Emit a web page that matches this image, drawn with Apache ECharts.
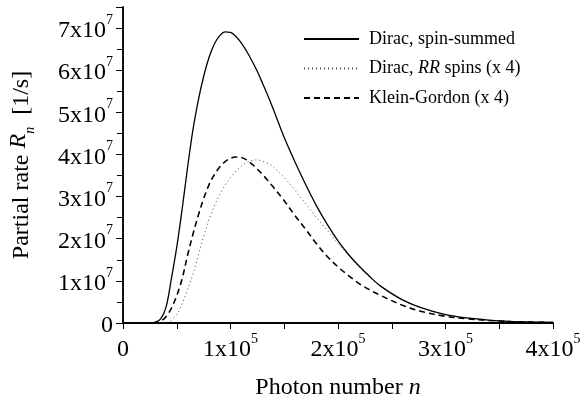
<!DOCTYPE html>
<html>
<head>
<meta charset="utf-8">
<script src="https://cdn.jsdelivr.net/npm/echarts@6/dist/echarts.min.js"></script>
<style>
html,body{margin:0;padding:0;background:#fff;}
#c{width:587px;height:401px;}
</style>
</head>
<body>
<div id="c"></div>
<script>
// photon number n (in thousands)
var nK = [0,10,20,25,30,35,40,45,50,55,60,65,70,75,80,85,90,95,100,105,110,115,120,125,130,135,140,150,160,170,180,190,200,210,220,230,240,260,280,300,320,340,360,380,400];
// partial rates in units of 1e7 [1/s]
var diracSum = [0,0,0,0.003,0.02,0.1,0.37,1.05,1.8,2.7,3.68,4.58,5.28,5.85,6.3,6.62,6.82,6.91,6.9,6.8,6.65,6.45,6.22,5.97,5.68,5.38,5.06,4.4,3.82,3.28,2.78,2.34,1.95,1.62,1.34,1.09,0.87,0.55,0.34,0.2,0.12,0.07,0.04,0.025,0.015];
var diracRR = [0,0,0,0,0,0,0.01,0.06,0.2,0.45,0.8,1.15,1.6,2.05,2.45,2.78,3.05,3.27,3.45,3.6,3.72,3.81,3.86,3.87,3.84,3.79,3.7,3.45,3.15,2.83,2.5,2.2,1.88,1.6,1.33,1.08,0.86,0.55,0.34,0.2,0.12,0.07,0.04,0.025,0.015];
var kleinGordon = [0,0,0,0,0,0.04,0.15,0.35,0.65,1.05,1.6,2.1,2.55,2.95,3.28,3.52,3.7,3.83,3.91,3.94,3.93,3.87,3.77,3.65,3.52,3.37,3.22,2.9,2.55,2.22,1.88,1.58,1.33,1.12,0.93,0.78,0.65,0.42,0.26,0.16,0.1,0.06,0.035,0.02,0.012];
var seriesNames = ['Dirac, spin-summed', 'Dirac, RR spins (x 4)', 'Klein-Gordon (x 4)'];
// tick labels: mantissa and exponent
var xTickMant = {0:'0',100:'1x10',200:'2x10',300:'3x10',400:'4x10'};
var xTickExp = '5';
var yTickExp = '7';

function pairs(ys){ return nK.map(function(x,i){ return [x, ys[i]]; }); }

var serif = 'Liberation Serif';
var chart = echarts.init(document.getElementById('c'));
var frameLine = {show:true, lineStyle:{color:'#000', width:1.5}};
var tickRich = {
  b:{fontFamily:serif, fontSize:24, color:'#000', lineHeight:30, verticalAlign:'bottom'},
  s:{fontFamily:serif, fontSize:14, color:'#000', lineHeight:10, verticalAlign:'top'}
};
chart.setOption({
  animation:false,
  backgroundColor:'#fff',
  textStyle:{fontFamily:serif},
  grid:{left:123, right:34, top:7, bottom:78, containLabel:false, outerBoundsMode:'none'},
  legend:{
    orient:'vertical', left:303, top:30, itemWidth:55, itemHeight:18, itemGap:11.5,
    padding:0,
    data:seriesNames,
    itemStyle:{opacity:0},
    lineStyle:{opacity:1},
    textStyle:{fontFamily:serif, fontSize:18, color:'#000', padding:[0,0,0,5],
      rich:{i:{fontFamily:serif, fontSize:18, fontStyle:'italic', color:'#000'}}},
    formatter:function(name){
      if(name==='Dirac, RR spins (x 4)') return 'Dirac, {i|RR} spins (x 4)';
      return name;
    }
  },
  xAxis:[{
    type:'value', min:0, max:400, interval:100, position:'bottom',
    axisLine:{show:true, onZero:false, lineStyle:{color:'#000', width:2}},
    axisTick:{show:true, inside:false, length:6, lineStyle:{color:'#000', width:1}},
    minorTick:{show:true, splitNumber:2, length:4, lineStyle:{color:'#000', width:1}},
    splitLine:{show:false},
    axisLabel:{margin:9, color:'#000',
      formatter:function(v){ if(v===0) return '{b|0}'; return '{b|'+xTickMant[v]+'}{s|'+xTickExp+'}'; },
      rich:tickRich},
    name:'Photon number {i|n}', nameLocation:'middle', nameGap:53, 
    nameTextStyle:{fontFamily:serif, fontSize:24, color:'#000', verticalAlign:'top', lineHeight:24,
      rich:{i:{fontFamily:serif, fontSize:24, fontStyle:'italic', color:'#000', lineHeight:24}}}
  },{
    type:'value', min:0, max:400, interval:100, position:'top',
    axisLine:frameLine,
    axisTick:{show:true, inside:true, length:6, lineStyle:{color:'#000'}},
    minorTick:{show:true, splitNumber:2, length:6, lineStyle:{color:'#000'}},
    axisLabel:{show:false}, splitLine:{show:false}
  }],
  yAxis:[{
    type:'value', min:0, max:7.5, interval:1, position:'left',
    axisLine:frameLine,
    axisTick:{show:true, inside:false, length:7, lineStyle:{color:'#000'}},
    minorTick:{show:true, splitNumber:2, length:5, lineStyle:{color:'#000'}},
    splitLine:{show:false},
    axisLabel:{margin:10, color:'#000', showMaxLabel:false,
      formatter:function(v){ if(v===0) return '{b|0}'; if(v>7) return ''; return '{b|'+v+'x10}{s|'+yTickExp+'}'; },
      rich:tickRich},
    name:'Partial rate {i|R}{sub|n}  [1/s]', nameLocation:'middle', nameGap:86, nameRotate:90,
    nameTextStyle:{fontFamily:serif, fontSize:24, color:'#000',
      rich:{i:{fontFamily:serif, fontSize:24, fontStyle:'italic', color:'#000', lineHeight:30, verticalAlign:'top'},
            sub:{fontFamily:serif, fontSize:14, fontStyle:'italic', color:'#000', lineHeight:30, verticalAlign:'bottom'}}}
  },{
    type:'value', min:0, max:7.5, interval:1, position:'right',
    axisLine:frameLine,
    axisTick:{show:true, inside:true, length:6, lineStyle:{color:'#000'}},
    minorTick:{show:true, splitNumber:2, length:6, lineStyle:{color:'#000'}},
    axisLabel:{show:false}, splitLine:{show:false}
  }],
  series:[
    {name:seriesNames[0], type:'line', data:pairs(diracSum), showSymbol:false, symbol:'none',
     smooth:0.35, lineStyle:{color:'#000', width:1.3, type:'solid'}, itemStyle:{color:'#000'}, z:3},
    {name:seriesNames[1], type:'line', data:pairs(diracRR), showSymbol:false, symbol:'none',
     smooth:0.35, lineStyle:{color:'#444', width:1, type:[1,3]}, itemStyle:{color:'#444'}, z:2},
    {name:seriesNames[2], type:'line', data:pairs(kleinGordon), showSymbol:false, symbol:'none',
     smooth:0.35, lineStyle:{color:'#000', width:1.6, type:[6,4]}, itemStyle:{color:'#000'}, z:2}
  ]
});
</script>
</body>
</html>
